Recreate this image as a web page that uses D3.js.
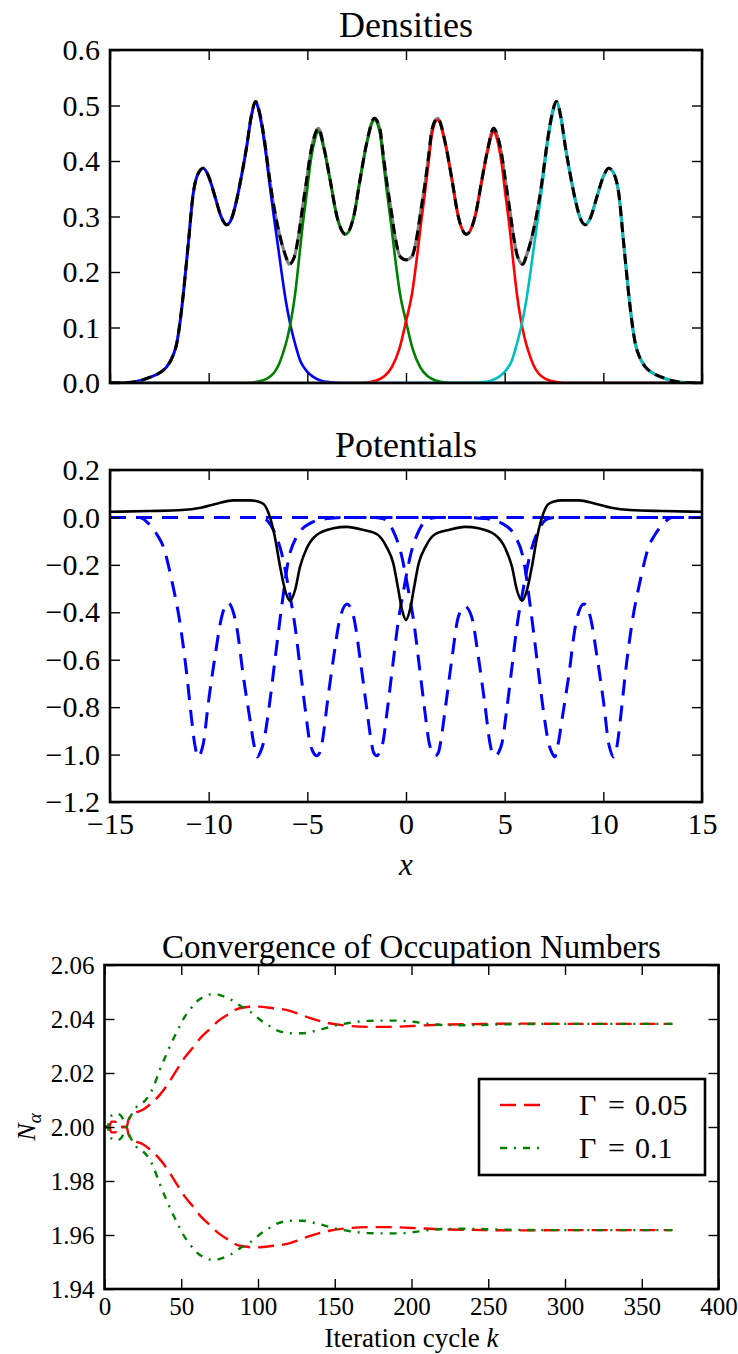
<!DOCTYPE html>
<html>
<head>
<meta charset="utf-8">
<script src="https://cdn.jsdelivr.net/npm/d3@7"></script>
<style>
  body { margin: 0; background: #fff; }
  svg text { font-family: "Liberation Serif", "DejaVu Serif", serif; fill: #000; }
</style>
</head>
<body>
<svg id="fig" width="738" height="1354"></svg>
<script>
// ---- Densities panel: [x, density] ----
const densBlue = [[-15,0],[-14,0.001],[-13.5,0.004],[-13,0.01],[-12.5,0.018],[-12.13,0.029],[-11.8,0.05],[-11.62,0.071],[-11.45,0.11],[-11.28,0.162],[-11.03,0.252],[-10.78,0.342],[-10.55,0.376],[-10.27,0.387],[-10,0.372],[-9.68,0.336],[-9.35,0.298],[-9.09,0.285],[-8.83,0.297],[-8.58,0.33],[-8.3,0.38],[-8.07,0.426],[-7.85,0.478],[-7.62,0.505],[-7.4,0.48],[-7.15,0.426],[-6.92,0.36],[-6.72,0.306],[-6.5,0.25],[-6.3,0.198],[-6.1,0.15],[-5.88,0.108],[-5.6,0.068],[-5.37,0.041],[-5,0.02],[-4.7,0.011],[-4.3,0.004],[-4,0.002],[-3.5,0.0005],[-3,0],[15,0]];
const densGreen = [[-15,0],[-8,0],[-7.57,0.002],[-7.1,0.007],[-6.72,0.017],[-6.45,0.033],[-6.22,0.055],[-6,0.083],[-5.8,0.118],[-5.62,0.16],[-5.46,0.21],[-5.25,0.28],[-5.03,0.342],[-4.85,0.395],[-4.7,0.426],[-4.44,0.453],[-4.15,0.42],[-3.85,0.366],[-3.5,0.3],[-3.06,0.268],[-2.65,0.3],[-2.33,0.366],[-2,0.43],[-1.6,0.474],[-1.32,0.45],[-1.15,0.4],[-0.98,0.348],[-0.75,0.285],[-0.56,0.228],[-0.3,0.16],[0,0.111],[0.35,0.06],[0.71,0.029],[1.1,0.012],[1.56,0.004],[2,0.001],[2.5,0],[15,0]];
const densRed = [[-15,0],[-2.5,0],[-2,0.001],[-1.56,0.004],[-1.1,0.012],[-0.71,0.029],[-0.35,0.06],[0,0.111],[0.3,0.16],[0.56,0.228],[0.75,0.285],[0.98,0.348],[1.15,0.4],[1.32,0.45],[1.6,0.474],[2,0.43],[2.33,0.366],[2.65,0.3],[3.06,0.268],[3.5,0.3],[3.85,0.366],[4.15,0.42],[4.44,0.453],[4.7,0.426],[4.85,0.395],[5.03,0.342],[5.25,0.28],[5.46,0.21],[5.62,0.16],[5.8,0.118],[6,0.083],[6.22,0.055],[6.45,0.033],[6.72,0.017],[7.1,0.007],[7.57,0.002],[8,0],[15,0]];
const densCyan = [[-15,0],[3,0],[3.5,0.0005],[4,0.002],[4.3,0.004],[4.7,0.011],[5,0.02],[5.37,0.041],[5.6,0.068],[5.88,0.108],[6.1,0.15],[6.3,0.198],[6.5,0.25],[6.72,0.306],[6.92,0.36],[7.15,0.426],[7.4,0.48],[7.62,0.505],[7.85,0.478],[8.07,0.426],[8.3,0.38],[8.58,0.33],[8.83,0.297],[9.09,0.285],[9.35,0.298],[9.68,0.336],[10,0.372],[10.27,0.387],[10.55,0.376],[10.78,0.342],[11.03,0.252],[11.28,0.162],[11.45,0.11],[11.62,0.071],[11.8,0.05],[12.13,0.029],[12.5,0.018],[13,0.01],[13.5,0.004],[14,0.001],[15,0]];
// total density (grey solid and black dashed coincide)
const densTotal = [[-15,0],[-14,0.001],[-13.5,0.004],[-13,0.01],[-12.5,0.018],[-12.13,0.029],[-11.8,0.05],[-11.62,0.071],[-11.45,0.11],[-11.28,0.162],[-11.03,0.252],[-10.78,0.342],[-10.55,0.376],[-10.27,0.387],[-10,0.372],[-9.68,0.336],[-9.35,0.298],[-9.09,0.285],[-8.83,0.297],[-8.58,0.33],[-8.3,0.38],[-8.07,0.427],[-7.85,0.479],[-7.62,0.507],[-7.4,0.484],[-7.15,0.432],[-6.92,0.37],[-6.72,0.323],[-6.5,0.282],[-6.3,0.252],[-6.1,0.229],[-5.92,0.214],[-5.66,0.227],[-5.46,0.262],[-5.25,0.314],[-5.03,0.367],[-4.85,0.411],[-4.7,0.437],[-4.44,0.459],[-4.15,0.423],[-3.85,0.367],[-3.5,0.3],[-3.06,0.268],[-2.65,0.3],[-2.33,0.366],[-2,0.431],[-1.6,0.477],[-1.32,0.457],[-1.15,0.41],[-0.98,0.363],[-0.75,0.31],[-0.56,0.265],[-0.3,0.228],[0,0.222],[0.3,0.228],[0.56,0.265],[0.75,0.31],[0.98,0.363],[1.15,0.41],[1.32,0.457],[1.6,0.477],[2,0.431],[2.33,0.366],[2.65,0.3],[3.06,0.268],[3.5,0.3],[3.85,0.367],[4.15,0.423],[4.44,0.459],[4.7,0.437],[4.85,0.411],[5.03,0.367],[5.25,0.314],[5.46,0.262],[5.66,0.227],[5.92,0.214],[6.1,0.229],[6.3,0.252],[6.5,0.282],[6.72,0.323],[6.92,0.37],[7.15,0.432],[7.4,0.484],[7.62,0.507],[7.85,0.479],[8.07,0.427],[8.3,0.38],[8.58,0.33],[8.83,0.297],[9.09,0.285],[9.35,0.298],[9.68,0.336],[10,0.372],[10.27,0.387],[10.55,0.376],[10.78,0.342],[11.03,0.252],[11.28,0.162],[11.45,0.11],[11.62,0.071],[11.8,0.05],[12.13,0.029],[12.5,0.018],[13,0.01],[13.5,0.004],[14,0.001],[15,0]];

// ---- Potentials panel ----
const potTotal = [[-15,0.024],[-13,0.027],[-11.35,0.031],[-10.4,0.041],[-9.6,0.058],[-8.75,0.072],[-7.9,0.072],[-7.5,0.067],[-7.2,0.055],[-6.95,0.015],[-6.65,-0.08],[-6.38,-0.208],[-6.13,-0.306],[-5.88,-0.352],[-5.62,-0.306],[-5.37,-0.208],[-5.03,-0.13],[-4.53,-0.074],[-3.68,-0.046],[-3,-0.04],[-2.16,-0.053],[-1.45,-0.072],[-0.98,-0.125],[-0.64,-0.195],[-0.4,-0.3],[-0.2,-0.39],[0,-0.432],[0.2,-0.39],[0.4,-0.3],[0.64,-0.195],[0.98,-0.125],[1.45,-0.072],[2.16,-0.053],[3,-0.04],[3.68,-0.046],[4.53,-0.074],[5.03,-0.13],[5.37,-0.208],[5.62,-0.306],[5.88,-0.352],[6.13,-0.306],[6.38,-0.208],[6.65,-0.08],[6.95,0.015],[7.2,0.055],[7.5,0.067],[7.9,0.072],[8.75,0.072],[9.6,0.058],[10.4,0.041],[11.35,0.031],[13,0.027],[15,0.024]];
const potOrb1 = [[-15,0],[-13.5,0],[-13,-0.03],[-12.6,-0.075],[-12.3,-0.123],[-11.875,-0.264],[-11.45,-0.447],[-11.115,-0.658],[-10.86,-0.855],[-10.7,-0.96],[-10.52,-1.01],[-10.35,-0.98],[-10.27,-0.953],[-10.02,-0.784],[-9.68,-0.587],[-9.34,-0.419],[-9.02,-0.36],[-8.75,-0.4],[-8.58,-0.461],[-8.24,-0.672],[-7.91,-0.85],[-7.7,-0.96],[-7.54,-1.01],[-7.38,-0.99],[-7.23,-0.953],[-6.98,-0.826],[-6.64,-0.601],[-6.3,-0.376],[-5.96,-0.18],[-5.54,-0.081],[-4.86,-0.025],[-4,-0.005],[-3,0],[15,0]];
const potOrb2 = [[-15,0],[-7.6,0],[-7.15,-0.007],[-6.72,-0.053],[-6.3,-0.152],[-5.96,-0.293],[-5.62,-0.461],[-5.37,-0.63],[-5.12,-0.8],[-4.86,-0.953],[-4.7,-0.99],[-4.53,-1.005],[-4.36,-0.99],[-4.25,-0.95],[-4,-0.79],[-3.67,-0.59],[-3.33,-0.42],[-2.98,-0.365],[-2.65,-0.42],[-2.32,-0.6],[-2,-0.8],[-1.75,-0.95],[-1.65,-0.99],[-1.49,-1.005],[-1.33,-0.99],[-1.18,-0.953],[-0.93,-0.8],[-0.68,-0.63],[-0.43,-0.461],[-0.09,-0.293],[0.25,-0.152],[0.67,-0.053],[1.1,-0.007],[1.6,0],[15,0]];
const potOrb3 = [[-15,0],[-1.6,0],[-1.1,-0.007],[-0.67,-0.053],[-0.25,-0.152],[0.09,-0.293],[0.43,-0.461],[0.68,-0.63],[0.93,-0.8],[1.18,-0.953],[1.33,-0.99],[1.49,-1.005],[1.65,-0.99],[1.75,-0.95],[2,-0.8],[2.32,-0.6],[2.65,-0.42],[2.98,-0.375],[3.33,-0.42],[3.67,-0.59],[4,-0.79],[4.25,-0.95],[4.36,-0.99],[4.53,-1.005],[4.7,-0.99],[4.86,-0.953],[5.12,-0.8],[5.37,-0.63],[5.62,-0.461],[5.96,-0.293],[6.3,-0.152],[6.72,-0.053],[7.15,-0.007],[7.6,0],[15,0]];
const potOrb4 = [[-15,0],[3,0],[4,-0.005],[4.86,-0.025],[5.54,-0.081],[5.96,-0.18],[6.3,-0.376],[6.64,-0.601],[6.98,-0.826],[7.23,-0.953],[7.38,-0.99],[7.54,-1.01],[7.7,-0.96],[7.91,-0.85],[8.24,-0.672],[8.58,-0.461],[8.75,-0.4],[9.02,-0.365],[9.34,-0.419],[9.68,-0.587],[10.02,-0.784],[10.27,-0.953],[10.35,-0.98],[10.52,-1.01],[10.7,-0.96],[10.86,-0.855],[11.115,-0.658],[11.45,-0.447],[11.875,-0.264],[12.3,-0.123],[12.6,-0.075],[13,-0.03],[13.5,0],[15,0]];

// ---- Convergence panel: [iteration k, N_alpha] ----
const convRedUp = [[0,2],[3,2],[4.5,2.002],[7,2.002],[8.5,2],[14.5,2],[15.5,2.0025],[17,2.004],[20,2.0052],[25,2.0064],[30,2.0085],[36,2.0119],[42,2.0165],[47,2.0211],[52,2.0255],[58,2.0297],[63,2.0333],[69,2.0365],[74,2.0392],[80,2.0415],[88,2.044],[99,2.0446],[110,2.044],[119,2.0433],[126,2.042],[134,2.0403],[145,2.0386],[158,2.0375],[171,2.0371],[186,2.0371],[200,2.0374],[220,2.0379],[240,2.0381],[270,2.0383],[300,2.0382],[330,2.0382],[370,2.0382]];
const convRedLow = [[0,2],[3,2],[4.5,1.998],[7,1.998],[8.5,2],[14.5,2],[15.5,1.9975],[17,1.996],[20,1.9948],[25,1.9936],[30,1.9915],[36,1.9881],[42,1.9835],[47,1.9789],[52,1.9745],[58,1.9703],[63,1.9667],[69,1.9635],[74,1.9608],[80,1.9585],[88,1.956],[99,1.9554],[110,1.956],[119,1.9567],[126,1.958],[134,1.9597],[145,1.9614],[158,1.9625],[171,1.9629],[186,1.9629],[200,1.9626],[220,1.9621],[240,1.9619],[270,1.9617],[300,1.9618],[330,1.9618],[370,1.9618]];
const convGreenUp = [[0,2],[2,2],[3,2.002],[5,2.0045],[8,2.005],[11,2.004],[13,2.0015],[14,2],[15,2.0015],[17,2.004],[21,2.0075],[25,2.009],[28.5,2.0112],[32,2.015],[36,2.0211],[40,2.0265],[44,2.0316],[48,2.0362],[51,2.0396],[56,2.0437],[60,2.0464],[65,2.0483],[69,2.0491],[73,2.0491],[77,2.0485],[82,2.0473],[86,2.0458],[91,2.044],[95,2.0427],[99,2.0408],[103,2.039],[108,2.0372],[112,2.0359],[117,2.035],[121,2.0347],[129,2.0347],[138,2.0357],[149,2.0374],[160,2.0386],[171,2.0393],[182,2.0394],[192,2.0394],[200,2.039],[210,2.0383],[220,2.0378],[235,2.0377],[260,2.038],[290,2.0382],[330,2.0382],[370,2.0382]];
const convGreenLow = [[0,2],[2,2],[3,1.998],[5,1.9955],[8,1.995],[11,1.996],[13,1.9985],[14,2],[15,1.9985],[17,1.996],[21,1.9925],[25,1.991],[28.5,1.9888],[32,1.985],[36,1.9789],[40,1.9735],[44,1.9684],[48,1.9638],[51,1.9604],[56,1.9563],[60,1.9536],[65,1.9517],[69,1.9509],[73,1.9509],[77,1.9515],[82,1.9527],[86,1.9542],[91,1.956],[95,1.9573],[99,1.9592],[103,1.961],[108,1.9628],[112,1.9641],[117,1.965],[121,1.9653],[129,1.9653],[138,1.9643],[149,1.9626],[160,1.9614],[171,1.9607],[182,1.9606],[192,1.9606],[200,1.961],[210,1.9617],[220,1.9622],[235,1.9623],[260,1.962],[290,1.9618],[330,1.9618],[370,1.9618]];
const legendValues = ["0.05", "0.1"];

// ---- ticks ----
const xTicksPos = [-15, -10, -5, 0, 5, 10, 15];
const yTicksDens = [0, 0.1, 0.2, 0.3, 0.4, 0.5, 0.6];
const yTicksPot = [0.2, 0, -0.2, -0.4, -0.6, -0.8, -1.0, -1.2];
const xTicksConv = [0, 50, 100, 150, 200, 250, 300, 350, 400];
const yTicksConv = [1.94, 1.96, 1.98, 2.00, 2.02, 2.04, 2.06];

const svg = d3.select("#fig");
const serif = '"Liberation Serif", "DejaVu Serif", serif';

function makePanel(id, box, xDom, yDom) {
  const x = d3.scaleLinear().domain(xDom).range([box.left, box.right]);
  const y = d3.scaleLinear().domain(yDom).range([box.bottom, box.top]);
  svg.append("clipPath").attr("id", id).append("rect")
    .attr("x", box.left).attr("y", box.top)
    .attr("width", box.right - box.left).attr("height", box.bottom - box.top);
  const g = svg.append("g");
  const plot = g.append("g").attr("clip-path", `url(#${id})`);
  const line = d3.line().x(d => x(d[0])).y(d => y(d[1])).curve(d3.curveMonotoneX);
  return { x, y, g, plot, line, box };
}

function addLine(p, data, color, width, dash) {
  p.plot.append("path").datum(data)
    .attr("d", p.line)
    .attr("fill", "none")
    .attr("stroke", color)
    .attr("stroke-width", width)
    .attr("stroke-linejoin", "round")
    .attr("stroke-dasharray", dash || null);
}

function drawAxes(p, o) {
  const b = p.box;
  const none = () => "";
  const parts = [
    [d3.axisBottom(p.x).tickValues(o.xTicks).tickFormat(o.xFmt || none).tickPadding(o.xPad || 0), `translate(0,${b.bottom})`],
    [d3.axisTop(p.x).tickValues(o.xTicks).tickFormat(none), `translate(0,${b.top})`],
    [d3.axisLeft(p.y).tickValues(o.yTicks).tickFormat(o.yFmt).tickPadding(o.yPad), `translate(${b.left},0)`],
    [d3.axisRight(p.y).tickValues(o.yTicks).tickFormat(none), `translate(${b.right},0)`]
  ];
  parts.forEach(([ax, tr]) => {
    const a = p.g.append("g").attr("transform", tr)
      .call(ax.tickSizeInner(-10).tickSizeOuter(0))
      .attr("font-family", serif)
      .attr("font-size", o.fontSize);
    a.select(".domain").remove();
    a.selectAll(".tick line").attr("stroke", "#000").attr("stroke-width", 1.4);
    a.selectAll("text").attr("fill", "#000");
  });
  p.g.append("rect")
    .attr("x", b.left).attr("y", b.top)
    .attr("width", b.right - b.left).attr("height", b.bottom - b.top)
    .attr("fill", "none").attr("stroke", "#000").attr("stroke-width", 2.6);
}

function title(txt, x, y, size, italic) {
  return svg.append("text").attr("x", x).attr("y", y)
    .attr("text-anchor", "middle")
    .style("font-size", size + "px")
    .style("font-style", italic ? "italic" : "normal")
    .text(txt);
}

// ---------- Densities ----------
const pD = makePanel("clipD", { left: 110, right: 702, top: 50, bottom: 383 }, [-15, 15], [0, 0.6]);
addLine(pD, densTotal, "#808080", 3.2);
addLine(pD, densBlue, "#0000ff", 2.6);
addLine(pD, densGreen, "#008000", 2.6);
addLine(pD, densRed, "#ff0000", 2.6);
addLine(pD, densCyan, "#00bfbf", 2.6);
addLine(pD, densTotal, "#000", 3, "10,6");
drawAxes(pD, { xTicks: xTicksPos, yTicks: yTicksDens, yFmt: d3.format(".1f"), yPad: 10, fontSize: 30 });
title("Densities", 406, 37, 36);

// ---------- Potentials ----------
const pP = makePanel("clipP", { left: 110, right: 702, top: 470, bottom: 802 }, [-15, 15], [-1.2, 0.2]);
[potOrb1, potOrb2, potOrb3, potOrb4].forEach(d => addLine(pP, d, "#0000ff", 3, "16,10"));
addLine(pP, potTotal, "#000", 2.6);
drawAxes(pP, { xTicks: xTicksPos, xFmt: d3.format("d"), xPad: 11, yTicks: yTicksPot, yFmt: d3.format(".1f"), yPad: 10, fontSize: 30 });
title("Potentials", 406, 457, 36);
title("x", 406, 875, 31, true);

// ---------- Convergence ----------
const pC = makePanel("clipC", { left: 104.5, right: 718.5, top: 965, bottom: 1289 }, [0, 400], [1.94, 2.06]);
const redDash = "16,8", greenDash = "7,7,2,7";
addLine(pC, convRedUp, "#ff0000", 2.4, redDash);
addLine(pC, convRedLow, "#ff0000", 2.4, redDash);
addLine(pC, convGreenUp, "#008000", 2.4, greenDash);
addLine(pC, convGreenLow, "#008000", 2.4, greenDash);
drawAxes(pC, { xTicks: xTicksConv, xFmt: d3.format("d"), xPad: 8, yTicks: yTicksConv, yFmt: d3.format(".2f"), yPad: 10, fontSize: 25 });
title("Convergence of Occupation Numbers", 411.5, 958, 33);

const xl = svg.append("text").attr("x", 411.5).attr("y", 1347).attr("text-anchor", "middle").style("font-size", "27px");
xl.append("tspan").text("Iteration cycle ");
xl.append("tspan").style("font-style", "italic").text("k");

const yl = svg.append("text").attr("transform", "translate(35,1127) rotate(-90)")
  .attr("text-anchor", "middle").style("font-size", "26px");
yl.append("tspan").style("font-style", "italic").text("N");
yl.append("tspan").attr("dy", 6).style("font-size", "19px").style("font-style", "italic").text("\u03b1");

// legend
const leg = svg.append("g");
leg.append("rect").attr("x", 479).attr("y", 1079).attr("width", 226).attr("height", 96)
  .attr("fill", "#fff").attr("stroke", "#000").attr("stroke-width", 2.6);
const legStyles = [["#ff0000", redDash], ["#008000", greenDash]];
legendValues.forEach((val, i) => {
  const yy = 1105 + i * 43;
  leg.append("line").attr("x1", 500).attr("x2", 541).attr("y1", yy).attr("y2", yy)
    .attr("stroke", legStyles[i][0]).attr("stroke-width", 2.4).attr("stroke-dasharray", legStyles[i][1]);
  const t = leg.append("text").attr("y", yy + 10).style("font-size", "30px");
  t.append("tspan").attr("x", 579).text("\u0393");
  t.append("tspan").attr("x", 608).text("=");
  t.append("tspan").attr("x", 635).text(val);
});
</script>
</body>
</html>
